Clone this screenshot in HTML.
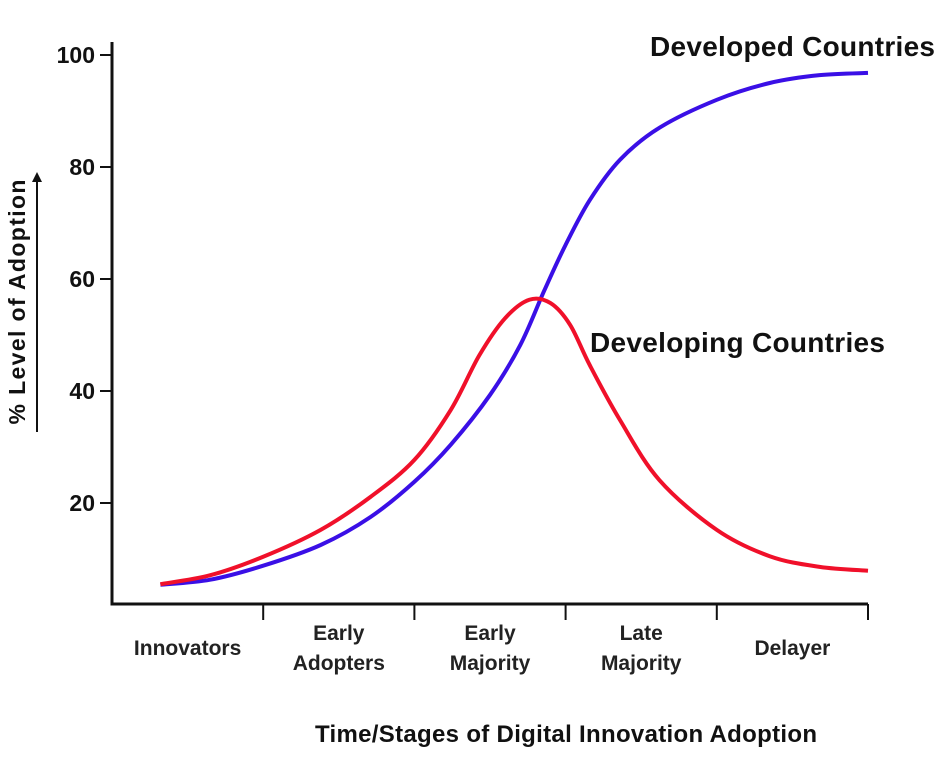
<!DOCTYPE html>
<html><head><meta charset="utf-8"><style>
body{margin:0;background:#fff;}
svg{display:block;font-family:"Liberation Sans",sans-serif;}
</style></head><body>
<svg id="chart" width="945" height="758" viewBox="0 0 945 758">
<g id="axes"></g><g id="series"></g>
<text x="650" y="56" font-size="28" font-weight="bold" fill="#111" textLength="285">Developed Countries</text>
<text x="590" y="352" font-size="28" font-weight="bold" fill="#111" textLength="295">Developing Countries</text>
<text x="566" y="742" font-size="24" font-weight="bold" text-anchor="middle" fill="#111" textLength="502">Time/Stages of Digital Innovation Adoption</text>
<text transform="translate(25,302) rotate(-90)" font-size="23" font-weight="bold" text-anchor="middle" fill="#111" textLength="245">% Level of Adoption</text>
<line x1="37" y1="432" x2="37" y2="180" stroke="#111" stroke-width="2"/>
<polygon points="37,172 32,182 42,182" fill="#111"/>
</svg>
<script>
const yTicks=[20,40,60,80,100];
const categories=[["Innovators"],["Early","Adopters"],["Early","Majority"],["Late","Majority"],["Delayer"]];
const developedX=[0.32,0.65,1,1.38,1.71,2,2.24,2.5,2.70,2.86,3,3.16,3.36,3.62,4,4.35,4.68,5];
const developedY=[5.4,6.3,8.8,12.5,17.5,23.8,30.4,39.3,48.2,58.0,66.1,74.1,81.3,87.0,92.0,95.0,96.4,96.8];
const developingX=[0.32,0.65,1,1.38,1.71,2,2.24,2.43,2.60,2.76,2.90,3.03,3.16,3.36,3.62,4,4.35,4.68,5];
const developingY=[5.5,7.1,10.4,15.2,21.1,27.7,36.6,46.4,53.0,56.3,55.7,51.8,44.6,34.8,24.1,15.2,10.5,8.6,7.9];
const NS="http://www.w3.org/2000/svg";
const xs=v=>112+v*151.2, ys=v=>615-v*5.6;
const axes=document.getElementById('axes'), ser=document.getElementById('series');
function mk(tag,attrs,parent){const e=document.createElementNS(NS,tag);for(const k in attrs)e.setAttribute(k,attrs[k]);parent.appendChild(e);return e;}
let e=mk('path',{d:'M112 42 V604 H868',fill:'none',stroke:'#111','stroke-width':3},axes);


yTicks.forEach(t=>{
  let l=mk('line',{x1:100,x2:112,y1:ys(t),y2:ys(t),stroke:'#111','stroke-width':2},axes);
  
  
  let tx=mk('text',{x:95,y:ys(t)+8,'font-size':23,'font-weight':'bold','text-anchor':'end',fill:'#111'},axes);
  tx.textContent=t;
  
  
});
categories.forEach((c,i)=>{
  let l=mk('line',{x1:xs(i+1),x2:xs(i+1),y1:604,y2:620,stroke:'#111','stroke-width':2},axes);
  
  
  const cx=xs(i+0.5);
  c.forEach((w,j)=>{
    let tx=mk('text',{x:cx,y:(c.length==1?655:640)+j*30,'font-size':21,'font-weight':'bold','text-anchor':'middle',fill:'#222'},axes);
    tx.textContent=w;
    
    
  });
});
function smooth(X,Y){
  const p=X.map((x,i)=>[xs(x),ys(Y[i])]);
  let d='M'+p[0][0]+' '+p[0][1];
  for(let i=0;i<p.length-1;i++){
    const p0=p[Math.max(0,i-1)],p1=p[i],p2=p[i+1],p3=p[Math.min(p.length-1,i+2)];
    d+=' C'+(p1[0]+(p2[0]-p0[0])/6)+' '+(p1[1]+(p2[1]-p0[1])/6)+' '+(p2[0]-(p3[0]-p1[0])/6)+' '+(p2[1]-(p3[1]-p1[1])/6)+' '+p2[0]+' '+p2[1];
  }
  return d;
}
let b=mk('path',{d:smooth(developedX,developedY),fill:'none',stroke:'#3a0fe6','stroke-width':4},ser);


let r=mk('path',{d:smooth(developingX,developingY),fill:'none',stroke:'#f0102a','stroke-width':4},ser);


</script>
</body></html>
